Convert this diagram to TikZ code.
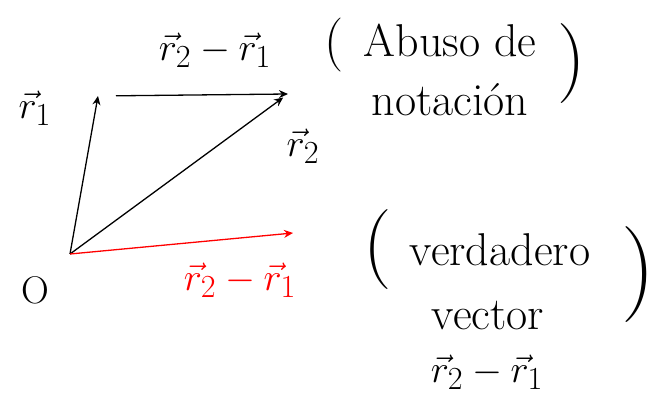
\documentclass[tikz,border=0pt]{standalone}
\usetikzlibrary{arrows.meta,positioning}
\begin{document}
\begin{tikzpicture}[x=1pt,y=-1pt,>={Stealth[length=9pt,width=8pt]}]
  \tikzset{
    vecline/.style={line width=1.3pt,->},
    hand/.style={font=\fontsize{46}{52}\selectfont,inner sep=0pt},
    symb/.style={font=\Huge,inner sep=0pt,scale=1.55},
    paren/.style={font=\fontsize{#1}{#1}\selectfont,inner sep=0pt},
  }
  \useasboundingbox (0,0) rectangle (655,411);
  \coordinate (O) at (70,254);
  \coordinate (P1) at (98,96);
  \coordinate (P2) at (288,94);
  \coordinate (R) at (293,233);
  \draw[vecline] (O) -- (P1);
  \draw[vecline,shorten <=18pt] (P1) -- (P2);
  \draw[vecline,shorten >=6pt] (O) -- (P2);
  \draw[vecline,red] (O) -- (R);
  % etiquetas de los vectores
  \node[symb] (origen) at (35,290) {O};
  \node[symb] (lr1) at (35,108) {$\vec r_1$};
  \node[symb] (lr21) at (215,50) {$\vec r_2 - \vec r_1$};
  \node[symb] (lr2) at (303,146) {$\vec r_2$};
  \node[symb,red] (lred) at (240,280) {$\vec r_2 - \vec r_1$};
  % comentarios
  \node[hand] (abuso) at (450,40) {Abuso de};
  \node[hand] (notacion) at (450,100) {notación};
  \node[paren=54] (pa1) at (334,45) {(};
  \node[paren=80] (pa2) at (572,64) {)};
  \node[hand] (verd) at (500,250) {verdadero};
  \node[hand] (vect) at (488,316) {vector};
  \node[symb] (lvec) at (487,372) {$\vec r_2 - \vec r_1$};
  \node[paren=80] (pv1) at (378,250) {(};
  \node[paren=96] (pv2) at (638,275) {)};
\end{tikzpicture}
\end{document}
